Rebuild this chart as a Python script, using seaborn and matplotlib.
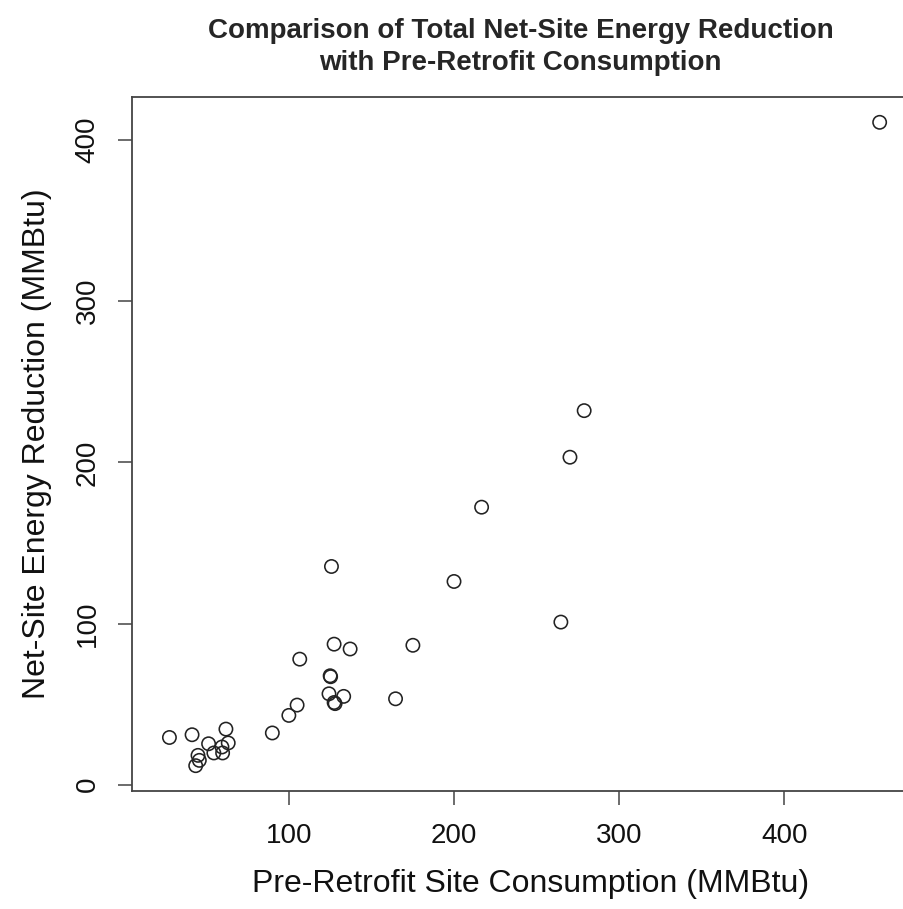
import matplotlib
matplotlib.use("Agg")
import matplotlib.pyplot as plt
import seaborn as sns
import pandas as pd

# pre-retrofit site consumption vs net-site energy reduction (MMBtu)
pre_retrofit = [457.7, 278.8, 270.2, 216.7, 200.0, 264.7, 175.1,
                125.8, 127.4, 137.1, 106.6, 125.0, 125.3, 124.3,
                133.2, 127.4, 128.0, 164.6, 105.0, 100.0, 90.0,
                27.7, 41.4, 61.9, 51.4, 63.3, 59.5, 54.6, 59.9,
                45.0, 45.8, 43.6]
net_reduction = [411.0, 232.1, 203.2, 172.2, 126.1, 100.9, 86.5,
                 135.4, 87.2, 84.2, 77.9, 67.6, 67.0, 56.4,
                 54.8, 51.0, 50.3, 53.3, 49.4, 43.0, 32.1,
                 29.3, 31.0, 34.5, 25.4, 25.9, 23.4, 19.7, 19.7,
                 18.2, 15.1, 11.8]

df = pd.DataFrame({"pre": pre_retrofit, "red": net_reduction})

sns.set_style("white")
plt.rcParams["font.family"] = ["Liberation Sans", "DejaVu Sans"]

fig = plt.figure(figsize=(9.04, 9.09), dpi=100)
ax = fig.add_axes([0.1465, 0.1293, 0.88, 0.7645])

sns.scatterplot(data=df, x="pre", y="red", ax=ax, marker="o",
                facecolor="none", edgecolor="#222222", s=92, linewidth=1.15)

# right side of the box falls outside the picture
ax.set_xlim(5.3, 5.3 + (476 - 5.3) * 0.88 / 0.86)
ax.set_ylim(-4.2, 427)
ax.set_xticks([100, 200, 300, 400])
ax.set_yticks([0, 100, 200, 300, 400])
ax.set_yticklabels(["0", "100", "200", "300", "400"], rotation=90, va="center")
ax.tick_params(axis="both", direction="out", length=10, width=1.1,
               color="#444444", labelsize=20, pad=13, left=True, bottom=True,
               labelcolor="#111111")

for sp in ax.spines.values():
    sp.set_color("#444444")
    sp.set_linewidth(1.3)
ax.spines["right"].set_visible(False)

ax.set_xlabel("Pre-Retrofit Site Consumption (MMBtu)", fontsize=23,
              labelpad=14, color="#111111")
ax.set_ylabel("Net-Site Energy Reduction (MMBtu)", fontsize=23,
              labelpad=16, color="#111111")

fig.text(0.576, 1 - 38 / 909, "Comparison of Total Net-Site Energy Reduction",
         ha="center", va="baseline", fontsize=20, fontweight="bold")
fig.text(0.576, 1 - 70 / 909, "with Pre-Retrofit Consumption",
         ha="center", va="baseline", fontsize=20, fontweight="bold")

fig.savefig("out.png", dpi=100)
